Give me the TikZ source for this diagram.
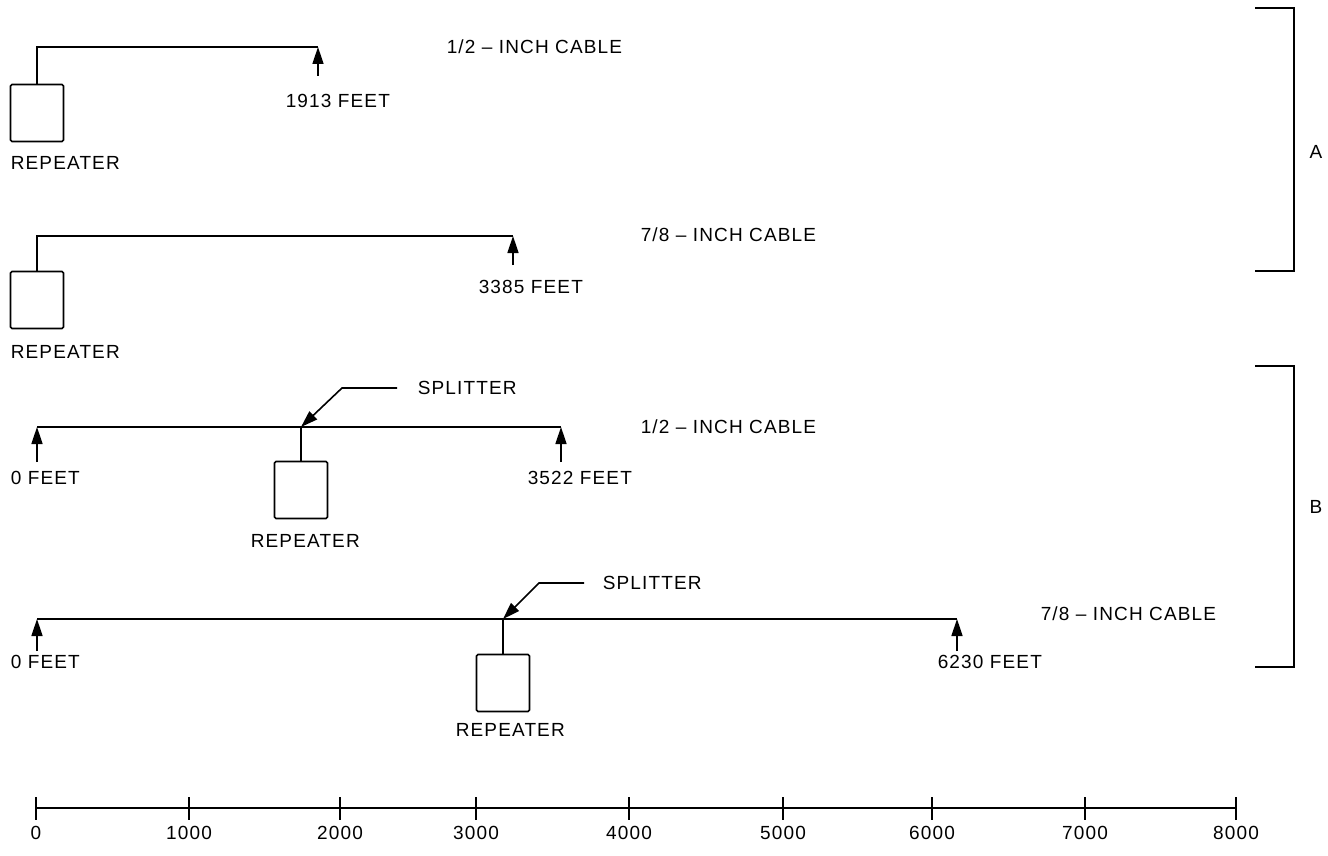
\documentclass[tikz,border=0pt]{standalone}
\usepackage{fontspec}
\setmainfont{Liberation Sans}[LetterSpace=6]
\usetikzlibrary{positioning,arrows.meta}

\begin{document}
\begin{tikzpicture}[x=1pt,y=-1pt,line width=1.6pt,
    every node/.style={font=\fontsize{19}{21}\selectfont,inner sep=0pt},
    rep/.style={draw,rounded corners=1.5pt,minimum width=53pt,minimum height=57pt},
    tip/.style={-{Triangle[length=17pt,width=11pt]}},
    lbl/.style={anchor=west}]
  \useasboundingbox (0,0) rectangle (1328,856);
  % A: repeater at the end of the cable
  \node[rep] (repa) at (37,113) {};
  \node[lbl] (repal) at (10,163) {REPEATER};
  \coordinate (enda) at (318,47);
  \coordinate (basea) at (318,76);
  \draw (repa.north) |- (enda);
  \draw[tip] (basea) -- (enda);
  \node[lbl] (lena) at (285,101) {1913 FEET};
  \node[lbl] (caba) at (446,47) {1/2 -- INCH CABLE};

  \node[rep] (repb) at (37,300) {};
  \node[lbl] (repbl) at (10,352) {REPEATER};
  \coordinate (endb) at (513,236);
  \coordinate (baseb) at (513,265);
  \draw (repb.north) |- (endb);
  \draw[tip] (baseb) -- (endb);
  \node[lbl] (lenb) at (478,287) {3385 FEET};
  \node[lbl] (cabb) at (640,235) {7/8 -- INCH CABLE};

  % B: repeater in the middle, with a splitter
  \coordinate (lc) at (37,427);
  \coordinate (rc) at (561,427);
  \coordinate (spc) at (301,427);
  \draw (lc) -- (rc);
  \draw[tip] (37,462) -- (lc);
  \draw[tip] (561,462) -- (rc);
  \node[rep] (repc) at (301,490) {};
  \draw (repc.north) -- (spc);
  \node[lbl] (repcl) at (250,541) {REPEATER};
  \node[lbl] (zc) at (10,478) {0 FEET};
  \node[lbl] (lenc) at (527,478) {3522 FEET};
  \node[lbl] (splc) at (417,388) {SPLITTER};
  \draw[tip] ([xshift=-20pt]splc.west) -- ++(-55,0) -- (spc);
  \node[lbl] (cabc) at (640,427) {1/2 -- INCH CABLE};

  \coordinate (ld) at (37,619);
  \coordinate (rd) at (957,619);
  \coordinate (spd) at (503,619);
  \draw (ld) -- (rd);
  \draw[tip] (37,651) -- (ld);
  \draw[tip] (957,651) -- (rd);
  \node[rep] (repd) at (503,683) {};
  \draw (repd.north) -- (spd);
  \node[lbl] (repdl) at (455,730) {REPEATER};
  \node[lbl] (zd) at (10,662) {0 FEET};
  \node[lbl] (lend) at (937,662) {6230 FEET};
  \node[lbl] (spld) at (602,583) {SPLITTER};
  \draw[tip] ([xshift=-18pt]spld.west) -- ++(-45,0) -- (spd);
  \node[lbl] (cabd) at (1040,614) {7/8 -- INCH CABLE};

  % brackets
  \draw (1255,8) -- (1294,8) -- (1294,271) -- (1255,271);
  \node (ga) at (1316,152) {A};
  \draw (1255,366) -- (1294,366) -- (1294,667) -- (1255,667);
  \node (gb) at (1316,507) {B};

  % scale in feet
  \draw (36,808) -- (1236,808);
  \foreach \x/\v in {36/0,189/1000,340/2000,476/3000,629/4000,
                     783/5000,932/6000,1085/7000,1236/8000}
    \draw (\x,797) -- (\x,820) node[below=5pt] (t\v) {\v};
\end{tikzpicture}
\end{document}
